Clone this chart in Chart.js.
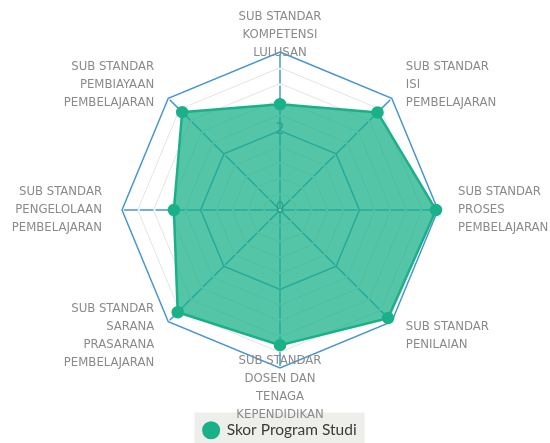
<!DOCTYPE html>
<html>
<head>
<meta charset="utf-8">
<script src="https://cdn.jsdelivr.net/npm/chart.js@4.4.0/dist/chart.umd.min.js"></script>
<style>
  body { margin: 0; background: #fff; }
  #wrap { width: 550px; height: 443px; }
</style>
</head>
<body>
<div id="wrap"><canvas id="myChart"></canvas></div>
<script>
// Kategori (label sumbu, per baris)
const labels = [
  ['SUB STANDAR', 'KOMPETENSI', 'LULUSAN'],
  ['SUB STANDAR', 'ISI', 'PEMBELAJARAN'],
  ['SUB STANDAR', 'PROSES', 'PEMBELAJARAN'],
  ['SUB STANDAR', 'PENILAIAN'],
  ['SUB STANDAR', 'DOSEN DAN', 'TENAGA', 'KEPENDIDIKAN'],
  ['SUB STANDAR', 'SARANA', 'PRASARANA', 'PEMBELAJARAN'],
  ['SUB STANDAR', 'PENGELOLAAN', 'PEMBELAJARAN'],
  ['SUB STANDAR', 'PEMBIAYAAN', 'PEMBELAJARAN']
];
// Nilai seri
const skor = [2.67, 3.49, 3.95, 3.87, 3.42, 3.66, 2.68, 3.5];
// Tick
const tickValues = [0, 0.4, 0.8, 1.2, 1.6, 2, 2.4, 2.8, 3.2, 3.6, 4];
const tickLabels = ['0', '', '', '', '', '2', '', '', '', '', ''];

const teal = 'rgb(26, 177, 136)';
const blue = 'rgb(70, 150, 210)';
const narrow = '"Liberation Sans Narrow", "DejaVu Sans Condensed", sans-serif';

//Fondo gris de la leyenda
const legendBg = {
  id: 'legendBg',
  beforeDraw(chart) {
    const hb = chart.legend.legendHitBoxes[0];
    if (!hb) return;
    const ctx = chart.ctx;
    ctx.save();
    ctx.fillStyle = '#eeeeea';
    ctx.fillRect(hb.left - 9, hb.top - 10, hb.width + 17, chart.height - hb.top + 10);
    ctx.restore();
  }
};

//Etiquetas de los ejes, centradas verticalmente en cada punta
const pointText = {
  id: 'pointText',
  afterDraw(chart) {
    const scale = chart.scales.r;
    const ctx = chart.ctx;
    const lineH = 18;
    ctx.save();
    ctx.font = '13px ' + narrow;
    ctx.fillStyle = '#8a8a8a';
    ctx.textBaseline = 'middle';
    labels.forEach((lines, i) => {
      const p = scale.getPointPosition(i, scale.drawingArea + 20);
      const dx = p.x - scale.xCenter;
      ctx.textAlign = Math.abs(dx) < 1 ? 'center' : (dx > 0 ? 'left' : 'right');
      const top = p.y - (lines.length - 1) * lineH / 2 + (i === 0 ? 3 : 0);
      lines.forEach((t, k) => ctx.fillText(t, p.x, top + k * lineH));
    });
    ctx.restore();
  }
};

const data = {
  labels: labels,
  datasets: [{
    label: 'Skor Program Studi',
    data: skor,
    fill: true,
    backgroundColor: 'rgba(26, 177, 136, 0.74)',
    borderColor: teal,
    borderWidth: 2.5,
    pointBackgroundColor: teal,
    pointBorderColor: teal,
    pointRadius: 5
  }]
};

const config = {
  type: 'radar',
  data: data,
  options: {
    responsive: true,
    maintainAspectRatio: false,
    animation: false,
    layout: { padding: { left: 114, right: 104, top: 8, bottom: -5 } },
    plugins: {
      tooltip: { enabled: false },
      legend: {
        position: 'bottom',
        labels: {
          usePointStyle: true,
          pointStyle: 'circle',
          boxWidth: 16,
          boxHeight: 11,
          padding: 10,
          color: '#3a3a3a',
          font: { family: 'Lato', size: 15.5 },
          generateLabels: chart => Chart.defaults.plugins.legend.labels.generateLabels(chart)
            .map(l => Object.assign(l, { fillStyle: teal, strokeStyle: teal }))
        }
      }
    },
    scales: {
      r: {
        min: -0.02,
        max: 4,
        afterBuildTicks: scale => { scale.ticks = tickValues.map(v => ({ value: v })); },
        ticks: {
          callback: (value, index) => tickLabels[index],
          showLabelBackdrop: false,
          backdropPadding: 0,
          color: '#6f6f6f',
          font: { family: narrow, size: 15 }
        },
        grid: {
          color: ctx => ctx.index === 0 ? 'rgba(0,0,0,0)' : (ctx.index === 5 || ctx.index === 10 ? blue : '#e4e4e4'),
          lineWidth: ctx => (ctx.index === 5 || ctx.index === 10) ? 1.5 : 1
        },
        angleLines: {
          color: blue,
          lineWidth: 1.5,
          borderDash: [13.7, 2],
          borderDashOffset: 14.7
        },
        pointLabels: { display: false }
      }
    }
  },
  plugins: [legendBg, pointText]
};

const myChart = new Chart(document.getElementById('myChart').getContext('2d'), config);
</script>
</body>
</html>
